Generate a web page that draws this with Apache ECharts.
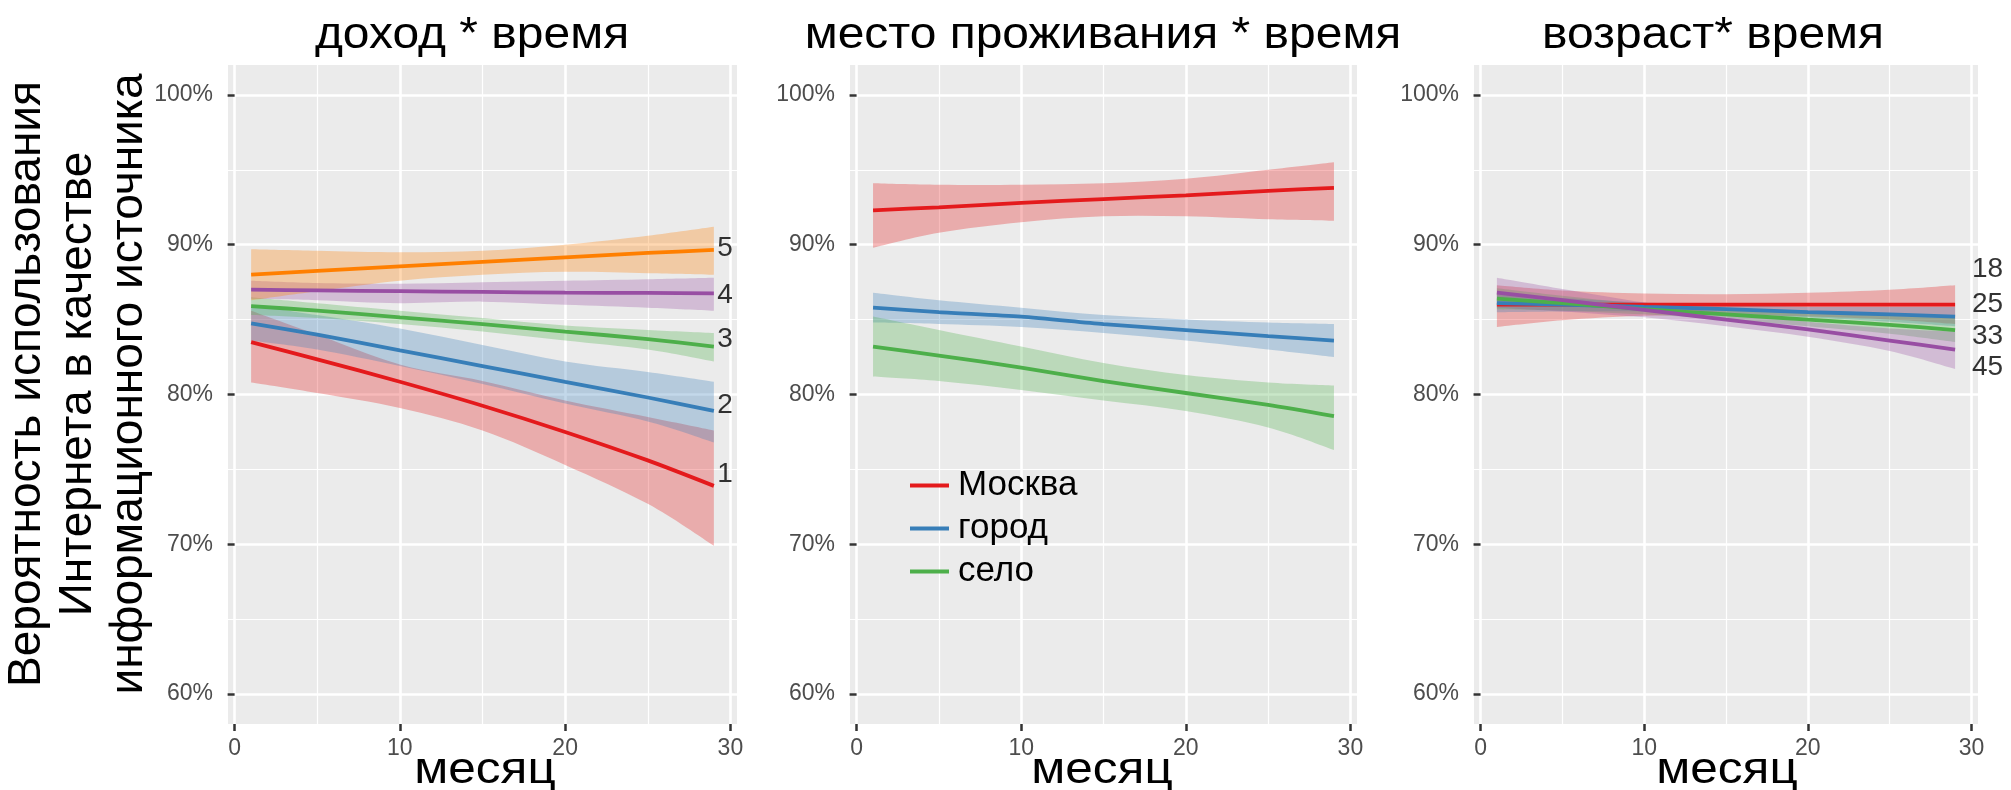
<!DOCTYPE html>
<html><head><meta charset="utf-8">
<script src="https://cdn.jsdelivr.net/npm/echarts@6/dist/echarts.min.js"></script>
<style>html,body{margin:0;padding:0;background:#fff}#c{width:2011px;height:790px}</style>
</head><body><div id="c"></div>
<script>
// ---------- data ----------
const months = [1, 5, 10, 15, 20, 25, 29];
const xTicks = [0, 10, 20, 30];
const xMinor = [5, 15, 25];
const yTicks = [60, 70, 80, 90, 100];
const yMinor = [65, 75, 85, 95];
const panelTitles = ['доход * время', 'место проживания * время', 'возраст* время'];
const xTitle = 'месяц';
const yTitle = ['Вероятность использования', 'Интернета в качестве', 'информационного источника'];

// panel 1: income groups 1..5
const incomeNames = ['1', '2', '3', '4', '5'];
const inc1Mean = [83.5, 82.35, 80.85, 79.25, 77.5, 75.6, 73.9];
const inc1Lo   = [80.8, 80.1, 79.1, 77.6, 75.3, 72.7, 69.9];
const inc1Hi   = [85.6, 84.0, 82.0, 80.9, 79.6, 78.5, 77.6];
const inc2Mean = [84.75, 84.0, 82.95, 81.9, 80.85, 79.8, 78.9];
const inc2Lo   = [83.6, 83.0, 81.9, 80.7, 79.4, 78.2, 76.8];
const inc2Hi   = [86.0, 85.3, 84.4, 83.3, 82.2, 81.5, 80.85];
const inc3Mean = [85.9, 85.6, 85.15, 84.7, 84.2, 83.7, 83.2];
const inc3Lo   = [85.3, 85.1, 84.7, 84.2, 83.6, 83.0, 82.2];
const inc3Hi   = [86.5, 86.1, 85.6, 85.1, 84.6, 84.3, 84.1];
const inc4Mean = [87.0, 86.95, 86.9, 86.85, 86.8, 86.78, 86.75];
const inc4Lo   = [86.4, 86.3, 86.1, 86.2, 86.0, 85.8, 85.6];
const inc4Hi   = [87.6, 87.45, 87.4, 87.5, 87.6, 87.7, 87.8];
const inc5Mean = [88.0, 88.25, 88.55, 88.85, 89.15, 89.45, 89.65];
const inc5Lo   = [86.3, 86.9, 87.6, 88.0, 88.2, 88.1, 88.0];
const inc5Hi   = [89.7, 89.6, 89.5, 89.6, 90.0, 90.6, 91.2];
const incomeLabelY = [74.7, 79.3, 83.7, 86.65, 89.75];

// panel 2: place of residence
const placeNames = ['Москва', 'город', 'село'];
const moscowMean = [92.3, 92.5, 92.8, 93.05, 93.3, 93.6, 93.8];
const moscowLo   = [89.8, 90.8, 91.5, 91.9, 91.9, 91.7, 91.6];
const moscowHi   = [94.1, 94.0, 94.0, 94.1, 94.4, 95.0, 95.5];
const cityMean   = [85.8, 85.5, 85.2, 84.7, 84.3, 83.9, 83.6];
const cityLo     = [84.8, 84.7, 84.5, 84.1, 83.6, 83.0, 82.5];
const cityHi     = [86.8, 86.3, 85.8, 85.3, 85.0, 84.8, 84.7];
const villageMean = [83.2, 82.6, 81.8, 80.9, 80.1, 79.3, 78.55];
const villageLo   = [81.2, 80.9, 80.3, 79.6, 78.9, 77.8, 76.3];
const villageHi   = [85.2, 84.3, 83.2, 82.1, 81.3, 80.8, 80.6];

// panel 3: age
const ageNames = ['18', '25', '33', '45'];
const age18Mean = [86.0, 86.0, 86.0, 86.0, 86.0, 86.0, 86.0];
const age18Lo   = [84.5, 84.95, 85.25, 85.3, 85.2, 85.0, 84.7];
const age18Hi   = [87.3, 86.95, 86.75, 86.7, 86.8, 87.0, 87.3];
const age25Mean = [86.1, 86.0, 85.85, 85.7, 85.5, 85.35, 85.2];
const age25Lo   = [85.5, 85.55, 85.55, 85.4, 85.15, 84.85, 84.55];
const age25Hi   = [86.7, 86.45, 86.15, 86.0, 85.85, 85.85, 85.85];
const age33Mean = [86.4, 86.1, 85.7, 85.35, 85.0, 84.65, 84.3];
const age33Lo   = [85.7, 85.6, 85.35, 85.0, 84.55, 84.05, 83.5];
const age33Hi   = [87.1, 86.6, 86.05, 85.7, 85.45, 85.25, 85.1];
const age45Mean = [86.8, 86.3, 85.65, 85.0, 84.35, 83.6, 83.0];
const age45Lo   = [85.8, 85.55, 85.15, 84.55, 83.85, 82.9, 81.7];
const age45Hi   = [87.8, 87.05, 86.15, 85.45, 84.85, 84.4, 84.2];
const ageLabelY = [88.35, 86.0, 83.9, 81.8];

// ---------- styling / layout ----------
const C = {red: '#E41A1C', blue: '#377EB8', green: '#4DAF4A', purple: '#984EA3', orange: '#FF7F00'};
const BAND_ALPHA = 0.3;
const SANS = "'Liberation Sans', Arial, sans-serif";
const grids = [
  {left: 228, top: 65, width: 509, height: 659},
  {left: 850, top: 65, width: 507, height: 659},
  {left: 1474, top: 65, width: 504, height: 659}
];
const X_MIN = -0.4, X_MAX = 30.4, Y_MIN = 58, Y_MAX = 102;

function hexA(hex, a) {
  const n = parseInt(hex.slice(1), 16);
  return `rgba(${(n >> 16) & 255},${(n >> 8) & 255},${n & 255},${a})`;
}

// Catmull-Rom -> cubic Bezier path segments through pixel points (rendering only)
function curveThrough(pts) {
  let d = '';
  for (let i = 0; i < pts.length - 1; i++) {
    const p0 = pts[i - 1] || pts[i], p1 = pts[i], p2 = pts[i + 1], p3 = pts[i + 2] || pts[i + 1];
    const c1 = [p1[0] + (p2[0] - p0[0]) / 6, p1[1] + (p2[1] - p0[1]) / 6];
    const c2 = [p2[0] - (p3[0] - p1[0]) / 6, p2[1] - (p3[1] - p1[1]) / 6];
    d += ` C${c1[0]},${c1[1]} ${c2[0]},${c2[1]} ${p2[0]},${p2[1]}`;
  }
  return d;
}

const xAxes = [], yAxes = [], series = [];
grids.forEach((g, i) => {
  xAxes.push({
    type: 'value', gridIndex: i, min: X_MIN, max: X_MAX, position: 'bottom',
    axisLine: {show: false},
    axisTick: {show: true, customValues: xTicks, length: 7, lineStyle: {color: '#333', width: 2.5}},
    axisLabel: {show: true, customValues: xTicks, fontSize: 23, color: '#4D4D4D', margin: 13, fontFamily: SANS},
    splitLine: {show: true, lineStyle: {color: '#fff', width: 2.6}}
  });
  xAxes.push({
    type: 'value', gridIndex: i, min: X_MIN, max: X_MAX, position: 'bottom',
    axisLine: {show: false},
    axisTick: {show: false, customValues: xMinor},
    axisLabel: {show: false, customValues: xMinor},
    splitLine: {show: true, lineStyle: {color: '#fff', width: 1.2}}
  });
  yAxes.push({
    type: 'value', gridIndex: i, min: Y_MIN, max: Y_MAX,
    axisLine: {show: false},
    axisTick: {show: true, customValues: yTicks, length: 7, lineStyle: {color: '#333', width: 2.5}},
    axisLabel: {show: true, customValues: yTicks, formatter: '{value}%', fontSize: 23, color: '#4D4D4D', margin: 15, fontFamily: SANS},
    splitLine: {show: true, lineStyle: {color: '#fff', width: 2.6}}
  });
  yAxes.push({
    type: 'value', gridIndex: i, min: Y_MIN, max: Y_MAX,
    axisLine: {show: false},
    axisTick: {show: false, customValues: yMinor},
    axisLabel: {show: false, customValues: yMinor},
    splitLine: {show: true, lineStyle: {color: '#fff', width: 1.2}}
  });
});

function addGroup(gi, name, mean, lo, hi, color) {
  series.push({
    type: 'custom', xAxisIndex: gi * 2, yAxisIndex: gi * 2, silent: true, z: 1,
    data: months.map((m, k) => [m, lo[k], hi[k]]),
    encode: {x: 0, y: [1, 2]},
    renderItem: (params, api) => {
      if (params.dataIndex !== 0) return;
      const top = months.map((m, k) => api.coord([m, hi[k]]));
      const bot = months.map((m, k) => api.coord([m, lo[k]])).reverse();
      const d = `M${top[0][0]},${top[0][1]}` + curveThrough(top) +
                ` L${bot[0][0]},${bot[0][1]}` + curveThrough(bot) + ' Z';
      return {type: 'path', shape: {pathData: d}, style: {fill: hexA(color, BAND_ALPHA)}};
    }
  });
  series.push({
    type: 'line', name: name, xAxisIndex: gi * 2, yAxisIndex: gi * 2, z: 3,
    data: months.map((m, k) => [m, mean[k]]),
    showSymbol: false, smooth: 0.25, silent: true,
    lineStyle: {color: color, width: 3.8}, itemStyle: {color: color}
  });
}

// panel 1
addGroup(0, 'inc1', inc1Mean, inc1Lo, inc1Hi, C.red);
addGroup(0, 'inc2', inc2Mean, inc2Lo, inc2Hi, C.blue);
addGroup(0, 'inc3', inc3Mean, inc3Lo, inc3Hi, C.green);
addGroup(0, 'inc4', inc4Mean, inc4Lo, inc4Hi, C.purple);
addGroup(0, 'inc5', inc5Mean, inc5Lo, inc5Hi, C.orange);
// panel 2
addGroup(1, placeNames[0], moscowMean, moscowLo, moscowHi, C.red);
addGroup(1, placeNames[1], cityMean, cityLo, cityHi, C.blue);
addGroup(1, placeNames[2], villageMean, villageLo, villageHi, C.green);
// panel 3
addGroup(2, 'a18', age18Mean, age18Lo, age18Hi, C.red);
addGroup(2, 'a25', age25Mean, age25Lo, age25Hi, C.blue);
addGroup(2, 'a33', age33Mean, age33Lo, age33Hi, C.green);
addGroup(2, 'a45', age45Mean, age45Lo, age45Hi, C.purple);

function addLabels(gi, names, ys, xVal, dist) {
  series.push({
    type: 'scatter', xAxisIndex: gi * 2, yAxisIndex: gi * 2, z: 5, silent: true,
    symbolSize: 1, itemStyle: {color: 'rgba(0,0,0,0)'},
    data: ys.map((y, k) => ({value: [xVal, y], label: {formatter: names[k]}})),
    label: {show: true, position: 'right', distance: dist, fontSize: 28, color: '#000', fontFamily: SANS}
  });
}
addLabels(0, incomeNames, incomeLabelY, 29, 3);
addLabels(2, ageNames, ageLabelY, 30, 0);

const titleCenters = [472, 1103, 1713];
const xTitleCenters = [485, 1102, 1727];
const graphics = [];
panelTitles.forEach((t, i) => {
  graphics.push({
    type: 'text', x: titleCenters[i], y: 36, scaleX: 1.09, silent: true,
    style: {text: t, font: `44px ${SANS}`, fill: '#000', textAlign: 'center', textVerticalAlign: 'middle'}
  });
  graphics.push({
    type: 'text', x: xTitleCenters[i], y: 771, scaleX: 1.1, silent: true,
    style: {text: xTitle, font: `45px ${SANS}`, fill: '#000', textAlign: 'center', textVerticalAlign: 'middle'}
  });
});
graphics.push({
  type: 'text', x: 78, y: 384, rotation: Math.PI / 2, silent: true,
  style: {text: yTitle.join('\n'), font: `46px ${SANS}`, fill: '#000', textAlign: 'center', textVerticalAlign: 'middle', lineHeight: 51}
});

const chart = echarts.init(document.getElementById('c'));
chart.setOption({
  animation: false,
  backgroundColor: '#fff',
  grid: grids.map(g => Object.assign({show: true, backgroundColor: '#EBEBEB', borderWidth: 0, containLabel: false, outerBoundsMode: 'none'}, g)),
  xAxis: xAxes,
  yAxis: yAxes,
  legend: {
    data: placeNames, orient: 'vertical', left: 910, top: 468, padding: 0,
    icon: 'rect', itemWidth: 39, itemHeight: 4, itemGap: 8,
    textStyle: {fontSize: 35, color: '#000', fontFamily: SANS, lineHeight: 35, padding: [0, 0, 0, 4]},
    selectedMode: false
  },
  series: series,
  graphic: graphics
});
</script>
</body></html>
